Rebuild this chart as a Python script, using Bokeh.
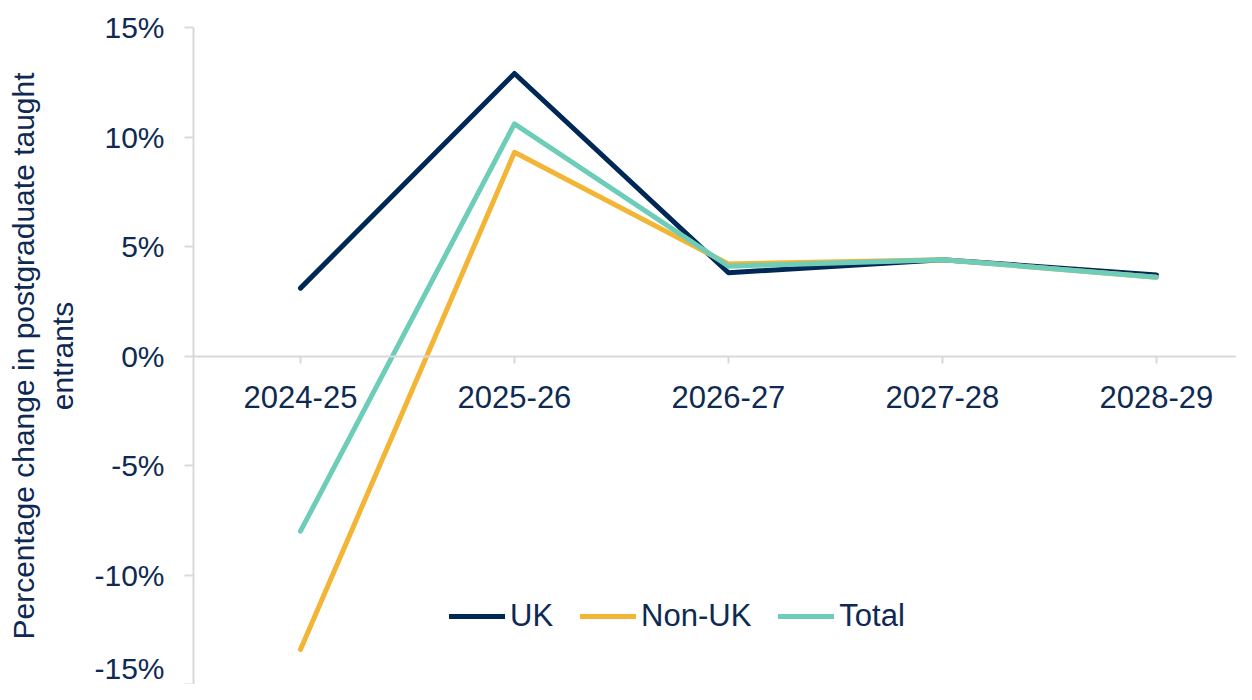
from bokeh.plotting import figure
from bokeh.models import Range1d, FixedTicker, PrintfTickFormatter, Legend, LegendItem
from bokeh.embed import file_html
from bokeh.resources import INLINE

years = ["2024-25", "2025-26", "2026-27", "2027-28", "2028-29"]
uk = [3.1, 12.9, 3.8, 4.4, 3.7]
non_uk = [-13.4, 9.3, 4.2, 4.4, 3.6]
total = [-8.0, 10.6, 4.1, 4.4, 3.6]
y_ticks = [-15, -10, -5, 0, 5, 10, 15]

NAVY = "#002855"
TEXT = "#0E2A52"
FONT = "Liberation Sans"

xs = list(range(len(years)))

p = figure(width=1236, height=684, output_backend="svg", toolbar_location=None,
           x_range=Range1d(-0.5, 4.374), y_range=Range1d(-15, 15),
           min_border_left=193, min_border_top=27, min_border_bottom=0, min_border_right=0)
p.outline_line_color = None
p.grid.visible = False

r_uk = p.line(xs, uk, line_color=NAVY, line_width=5, line_join="round", line_cap="round")
r_non = p.line(xs, non_uk, line_color="#F2B536", line_width=5, line_join="round", line_cap="round")
r_tot = p.line(xs, total, line_color="#6DCDB8", line_width=5, line_join="round", line_cap="round")

# x axis through zero
xa = p.xaxis[0]
xa.fixed_location = 0
xa.ticker = FixedTicker(ticks=xs)
xa.major_label_overrides = {i: y for i, y in enumerate(years)}
xa.axis_line_color = "#D9D9D9"
xa.axis_line_width = 2
xa.major_tick_line_color = "#D9D9D9"
xa.major_tick_line_width = 2
xa.major_tick_out = 7
xa.major_tick_in = 0
xa.minor_tick_line_color = None
xa.major_label_standoff = 23
xa.major_label_text_font = FONT
xa.major_label_text_font_size = "31px"
xa.major_label_text_color = TEXT

ya = p.yaxis[0]
ya.ticker = FixedTicker(ticks=y_ticks)
ya.formatter = PrintfTickFormatter(format="%d%%")
ya.axis_line_color = "#D9D9D9"
ya.axis_line_width = 2
ya.major_tick_line_color = "#D9D9D9"
ya.major_tick_line_width = 2
ya.major_tick_out = 9
ya.major_tick_in = 0
ya.minor_tick_line_color = None
ya.major_label_standoff = 20
ya.major_label_text_font = FONT
ya.major_label_text_font_size = "30px"
ya.major_label_text_color = TEXT
ya.axis_label = "Percentage change in postgraduate taught\nentrants"
ya.axis_label_text_font = FONT
ya.axis_label_text_font_size = "30px"
ya.axis_label_text_font_style = "normal"
ya.axis_label_text_color = TEXT
ya.axis_label_standoff = 12

legend = Legend(items=[LegendItem(label="UK", renderers=[r_uk]),
                       LegendItem(label="Non-UK", renderers=[r_non]),
                       LegendItem(label="Total", renderers=[r_tot])],
                orientation="horizontal", location=(256, 50),
                glyph_width=56, glyph_height=20, label_standoff=5, spacing=27,
                padding=0, margin=0, border_line_color=None, background_fill_alpha=0,
                label_text_font=FONT, label_text_font_size="31px", label_text_color=TEXT)
p.add_layout(legend)

open("out.html", "w").write(file_html(p, INLINE))
